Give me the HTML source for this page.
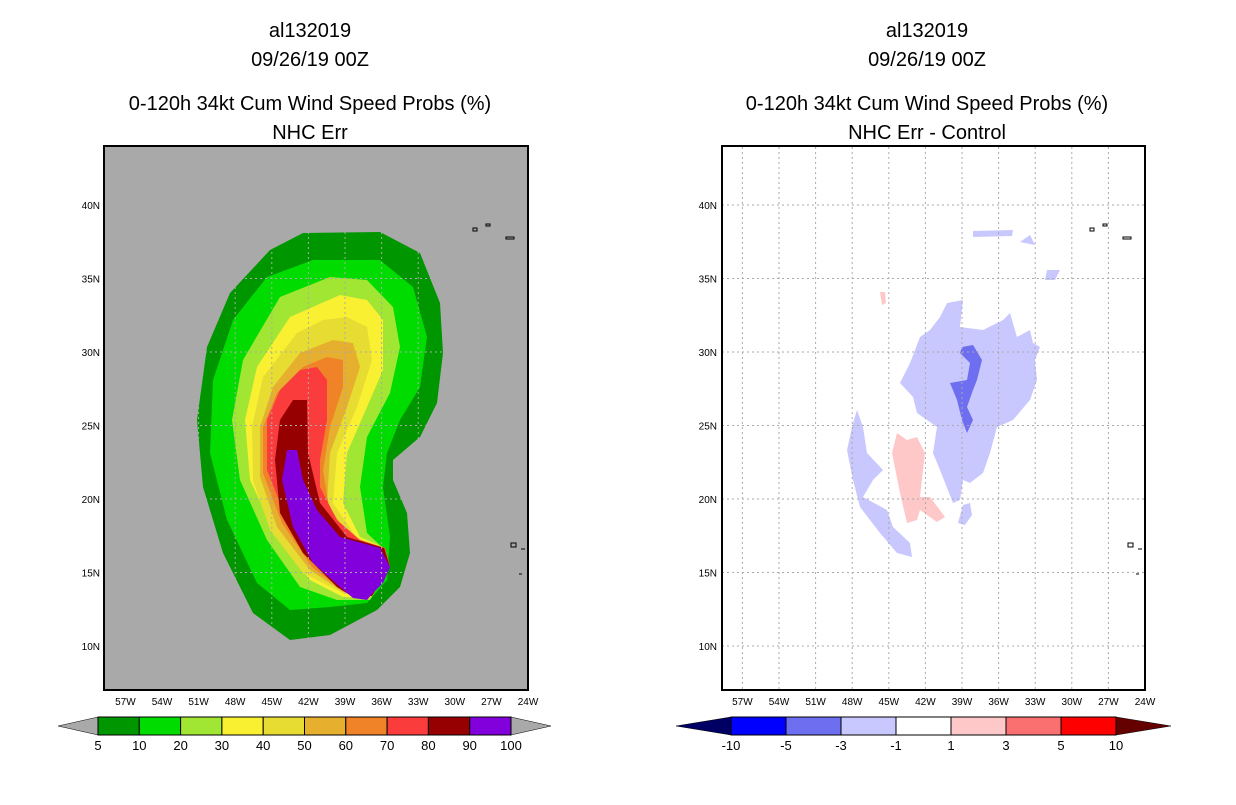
<!DOCTYPE html>
<html><head><meta charset="utf-8">
<style>
body{margin:0;background:#fff;width:1236px;height:800px;overflow:hidden;font-family:"Liberation Sans",sans-serif}
svg text{font-family:"Liberation Sans",sans-serif}
</style></head>
<body>
<svg id="s" width="1236" height="800" xmlns="http://www.w3.org/2000/svg">
<g font-size="20" text-anchor="middle" fill="#000">
<text x="310" y="37">al132019</text>
<text x="310" y="66">09/26/19 00Z</text>
<text x="310" y="110">0-120h 34kt Cum Wind Speed Probs (%)</text>
<text x="310" y="139">NHC Err</text>
</g>
<g font-size="20" text-anchor="middle" fill="#000">
<text x="927" y="37">al132019</text>
<text x="927" y="66">09/26/19 00Z</text>
<text x="927" y="110">0-120h 34kt Cum Wind Speed Probs (%)</text>
<text x="927" y="139">NHC Err - Control</text>
</g>
<rect x="104" y="146" width="424" height="544" fill="#a9a9a9"/>
<rect x="722" y="146" width="423" height="544" fill="#fff"/>
<g>
<polygon fill="#009600" points="303,233 380,232 420,253 440,303 443,353 437,403 420,437 393,460 393,480 407,513 410,553 400,587 377,610 330,635 290,640 253,613 223,553 203,487 197,420 207,347 230,293 270,250"/>
<polygon fill="#00dc00" points="313,260 380,260 413,287 427,337 420,387 400,420 387,453 383,487 390,537 387,580 367,603 330,607 290,610 257,583 227,520 210,453 213,380 233,320 267,277"/>
<polygon fill="#a0e632" points="330,277 367,280 393,307 400,347 390,393 367,437 360,487 367,533 383,548 390,567 370,600 337,600 300,587 267,540 240,480 232,420 243,360 280,297"/>
<polygon fill="#faf032" points="340,295 367,300 383,320 383,370 367,407 347,453 343,503 360,537 385,548 390,567 370,598 343,597 310,580 277,537 250,480 245,420 257,367 290,317"/>
<polygon fill="#e6dc32" points="323,320 347,317 367,327 372,360 357,407 337,453 333,503 357,538 385,548 390,567 370,597 343,593 303,573 270,530 253,480 252,427 263,377 297,333"/>
<polygon fill="#e6af2d" points="333,340 353,343 360,367 347,407 330,453 327,503 350,538 385,548 390,567 370,596 343,592 310,570 277,527 260,477 260,427 273,387 300,353"/>
<polygon fill="#f08228" points="327,357 343,360 343,387 330,427 323,470 330,513 353,539 385,548 390,567 370,595 343,591 312,567 282,523 263,473 263,427 277,393 303,367"/>
<polygon fill="#fa3c3c" points="317,367 327,380 327,420 320,460 320,487 337,520 360,540 385,548 390,567 370,594 343,587 313,563 287,520 267,470 267,420 280,390 300,370"/>
<polygon fill="#960000" points="293,400 307,400 308,453 320,503 347,537 384,548 390,567 372,596 353,597 337,587 303,553 280,513 275,460 280,420"/>
<polygon fill="#8200dc" points="287,450 297,450 303,480 317,510 340,537 380,548 390,567 383,583 373,593 367,600 353,598 340,587 313,563 293,527 282,480"/>
</g>
<g>
<polygon fill="#c8c8ff" points="947,303 963,300 960,327 983,330 1003,320 1010,313 1017,337 1030,330 1033,343 1040,347 1035,360 1037,380 1030,400 1013,420 997,427 990,453 983,473 970,483 963,480 960,500 953,503 940,470 933,453 937,427 917,413 913,397 900,383 910,363 920,337 930,330 940,317"/>
<polygon fill="#c8c8ff" points="857,410 863,427 867,453 883,470 873,480 863,497 887,510 893,527 910,543 912,557 897,553 880,533 860,507 853,480 847,450 853,423"/>
<polygon fill="#c8c8ff" points="973,231 1013,230 1012,236 973,237"/>
<polygon fill="#c8c8ff" points="1020,242 1030,235 1035,245"/>
<polygon fill="#c8c8ff" points="1047,270 1060,270 1055,280 1045,280"/>
<polygon fill="#c8c8ff" points="963,505 970,503 972,515 965,525 958,523"/>
<polygon fill="#ffc8c8" points="897,433 907,440 917,437 925,453 920,497 930,497 945,517 937,522 920,510 917,520 907,523 900,493 892,453"/>
<polygon fill="#ffc8c8" points="880,292 885,292 886,303 882,305"/>
<polygon fill="#6e6ef0" points="962,347 973,345 982,360 977,380 973,390 967,407 973,420 967,433 962,420 957,400 950,383 967,380 970,363 960,353"/>
</g>
<g id="grid"></g>
<g fill="none" stroke="#000" stroke-width="1">
<path d="M473,228 l4,0 l0,3 l-4,0z M486,224 l4,0 0,2 -4,0z M506,237 l8,0 0,2 -8,0z M511,543 l5,0 0,4 -5,0z M521,549 l4,0 M519,574 l3,0"/>
<path d="M1090,228 l4,0 l0,3 l-4,0z M1103,224 l4,0 0,2 -4,0z M1123,237 l8,0 0,2 -8,0z M1128,543 l5,0 0,4 -5,0z M1138,549 l4,0 M1136,574 l3,0"/>
</g>
<rect x="104" y="146" width="424" height="544" fill="none" stroke="#000" stroke-width="2"/>
<rect x="722" y="146" width="423" height="544" fill="none" stroke="#000" stroke-width="2"/>
<g id="ticks" font-size="10" fill="#000"></g>
<g id="cb"></g>
</svg>
<script>
const lonTicks=[57,54,51,48,45,42,39,36,33,30,27,24];
const latTicks=[40,35,30,25,20,15,10];
const probLevels=[5,10,20,30,40,50,60,70,80,90,100];
const probColors=["#009600","#00dc00","#a0e632","#faf032","#e6dc32","#e6af2d","#f08228","#fa3c3c","#960000","#8200dc"];
const diffLevels=[-10,-5,-3,-1,1,3,5,10];
const diffColors=["#0000ff","#6e6ef0","#c8c8ff","#ffffff","#ffc8c8","#fa7070","#ff0000"];
const NS="http://www.w3.org/2000/svg";
function mk(t,a,p){const e=document.createElementNS(NS,t);for(const k in a)e.setAttribute(k,a[k]);p.appendChild(e);return e;}
const panels=[{x0:528},{x0:1145}];
function xs(p,lon){return p.x0-(lon-24)*12.2;}
function ys(lat){return 205+(40-lat)*14.7;}
const grid=document.getElementById('grid'),ticks=document.getElementById('ticks');
panels.forEach((p,pi)=>{
 lonTicks.forEach(l=>{const x=xs(p,l);
  if(l!==24){const ln=mk('line',{x1:x,x2:x,y1:147,y2:689,stroke:'#aaa','stroke-dasharray':'2,3'},grid);
  }
  const t=mk('text',{x:x,y:705,'text-anchor':'middle'},ticks);t.textContent=l+'W';
  });
 latTicks.forEach(l=>{const y=ys(l);
  const ln=mk('line',{x1:p.x0-423,x2:p.x0,y1:y,y2:y,stroke:'#aaa','stroke-dasharray':'2,3'},grid);
  
  const t=mk('text',{x:p.x0-428,y:y+4,'text-anchor':'end'},ticks);t.textContent=l+'N';
  });
});
const cb=document.getElementById('cb');
function bar(x0,x1,al,cols,levels,lc,rc,nm){
 const w=(x1-x0)/cols.length,y=717,h=18;
 const a=mk('polygon',{points:`${x0-al},${y+h/2} ${x0},${y} ${x0},${y+h}`,fill:lc,stroke:'#000','stroke-width':0.5},cb);
 
 const b=mk('polygon',{points:`${x1+al},${y+h/2} ${x1},${y} ${x1},${y+h}`,fill:rc,stroke:'#000','stroke-width':0.5},cb);
 
 cols.forEach((c,i)=>{const r=mk('rect',{x:x0+i*w,y:y,width:w,height:h,fill:c,stroke:'#000','stroke-width':1},cb);
  });
 levels.forEach((v,i)=>{const t=mk('text',{x:x0+i*w,y:750,'text-anchor':'middle','font-size':13},cb);t.textContent=v;
  });
}
bar(98,511,40,probColors,probLevels,'#a9a9a9','#a9a9a9','prob-colorbar');
bar(731,1116,55,diffColors,diffLevels,'#000064','#640000','diff-colorbar');
</script>
</body></html>
